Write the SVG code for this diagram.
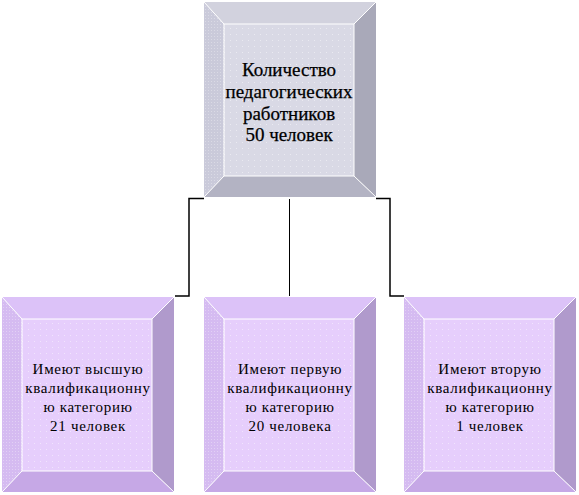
<svg xmlns="http://www.w3.org/2000/svg" width="579" height="495" viewBox="0 0 579 495">
  <style>
    .gray { --t: #d2d2de; --l: #cacada; --r: #a9a9b9; --b: #b3b3c3; --f: #d9d9e5; }
    .purp { --t: #dcc2f8; --l: #d5bbf1; --r: #b09acc; --b: #c6a8e6; --f: #e6cefc; }
    .t { fill: var(--t); }
    .l { fill: var(--l); }
    .r { fill: var(--r); }
    .b { fill: var(--b); }
    .f { fill: var(--f); }
    text { font-family: 'Liberation Serif', 'DejaVu Serif', serif; }
    .main { font-size: 19px; fill: #000000; text-anchor: middle; stroke: #000000; stroke-width: 0.25px; }
    .sub { font-size: 15px; fill: #000000; text-anchor: middle; letter-spacing: 0.7px; }
    .conn { stroke: #000000; fill: none; }
  </style>
  <defs>
    <pattern id="dots" width="6" height="6" patternUnits="userSpaceOnUse">
      <rect x="2" y="2" width="1" height="1" fill="#ffffff" fill-opacity="0.45"/>
    </pattern>
    <pattern id="dense" width="3" height="3" patternUnits="userSpaceOnUse">
      <rect x="1" y="1" width="1" height="1" fill="#ffffff" fill-opacity="0.3"/>
    </pattern>
    <g id="bevel">
      <polygon class="t" points="0,0 172,0 150,22 20,22"/>
      <polygon class="l" points="0,0 20,22 20,174 0,195"/>
      <polygon class="r" points="172,0 172,195 150,174 150,22"/>
      <polygon class="b" points="0,195 20,174 150,174 172,195"/>
      <polygon points="0,0 20,22 20,174 0,195" fill="url(#dense)"/>
      <rect class="f" x="20" y="22" width="130" height="152"/>
      <rect x="20" y="22" width="130" height="152" fill="url(#dots)"/>
      <rect x="20" y="22" width="130" height="152" fill="none" stroke="#ffffff" stroke-width="1"/>
      <g stroke="#ffffff" stroke-width="1">
        <line x1="0" y1="0" x2="20" y2="22"/>
        <line x1="172" y1="0" x2="150" y2="22"/>
        <line x1="0" y1="195" x2="20" y2="174"/>
        <line x1="172" y1="195" x2="150" y2="174"/>
      </g>
    </g>
  </defs>
  <rect width="579" height="495" fill="#ffffff"/>

  <g id="connectors">
    <polyline class="conn" stroke-width="1.5" points="204,198.5 189,198.5 189,296 175,296"/>
    <line class="conn" stroke-width="1" x1="289.5" y1="199" x2="289.5" y2="296"/>
    <polyline class="conn" stroke-width="1.5" points="376,198.5 390,198.5 390,296 404,296"/>
  </g>

  <g id="node-total" class="gray" transform="translate(204,2)">
    <use href="#bevel"/>
    <text class="main" x="85" y="74">Количество</text>
    <text class="main" x="85" y="96">педагогических</text>
    <text class="main" x="85" y="118">работников</text>
    <text class="main" x="85" y="139">50 человек</text>
  </g>

  <g id="node-highest" class="purp" transform="translate(2,297)">
    <use href="#bevel"/>
    <text class="sub" x="86" y="77">Имеют высшую</text>
    <text class="sub" x="86" y="96">квалификационну</text>
    <text class="sub" x="86" y="115">ю категорию</text>
    <text class="sub" x="86" y="134">21 человек</text>
  </g>

  <g id="node-first" class="purp" transform="translate(204,297)">
    <use href="#bevel"/>
    <text class="sub" x="86" y="77">Имеют первую</text>
    <text class="sub" x="86" y="96">квалификационну</text>
    <text class="sub" x="86" y="115">ю категорию</text>
    <text class="sub" x="86" y="134">20 человека</text>
  </g>

  <g id="node-second" class="purp" transform="translate(404,297)">
    <use href="#bevel"/>
    <text class="sub" x="86" y="77">Имеют вторую</text>
    <text class="sub" x="86" y="96">квалификационну</text>
    <text class="sub" x="86" y="115">ю категорию</text>
    <text class="sub" x="86" y="134">1 человек</text>
  </g>
</svg>
